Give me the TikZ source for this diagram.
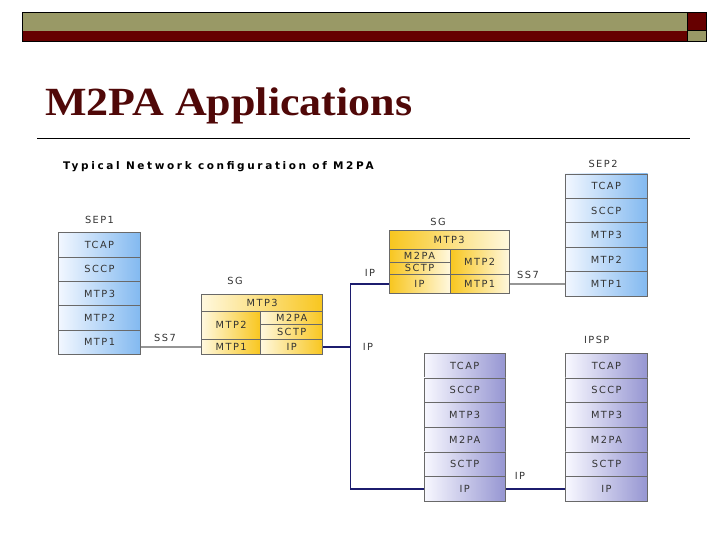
\documentclass[tikz,border=0pt]{standalone}
\usepackage{fontspec}
\setmainfont{Liberation Serif}
\newfontfamily\lblfam[LetterSpace=15]{DejaVu Sans}
\newfontfamily\headfam[LetterSpace=25]{DejaVu Sans}
\definecolor{olivebar}{RGB}{153,153,102}
\definecolor{maroonbar}{RGB}{102,0,0}
\definecolor{titlered}{RGB}{80,8,8}
\definecolor{cellborder}{RGB}{105,105,105}
\definecolor{blueL}{RGB}{242,247,255}
\definecolor{blueR}{RGB}{130,185,240}
\definecolor{lavL}{RGB}{248,248,255}
\definecolor{lavR}{RGB}{150,150,210}
\definecolor{goldC}{RGB}{248,198,30}
\definecolor{paleC}{RGB}{255,248,222}
\definecolor{ss7gray}{RGB}{150,150,150}
\definecolor{ipnavy}{RGB}{28,28,110}
\tikzset{
  cell/.style={draw=cellborder, line width=0.9pt, inner sep=0pt, text=black!80,
    font=\lblfam\fontsize{9.8}{10}\selectfont},
  bluecell/.style={cell, left color=blueL, right color=blueR, minimum height=24.4pt},
  lavcell/.style={cell, left color=lavL, right color=lavR, minimum height=24.7pt},
  goldR/.style={cell, left color=paleC, right color=goldC},
  goldL/.style={cell, left color=goldC, right color=paleC},
  lbl/.style={inner sep=0pt, font=\lblfam\fontsize{9.8}{10}\selectfont, text=black!80},
  ss7line/.style={draw=ss7gray, line width=1.8pt},
  ipline/.style={draw=ipnavy, line width=1.8pt},
  barbox/.style={draw=black, line width=0.8pt}
}
\begin{document}
\begin{tikzpicture}[x=1pt,y=-1pt]
\useasboundingbox (0,0) rectangle (720,540);
% header
\fill[olivebar] (22,12.3) rectangle (687,30.7);
\fill[maroonbar] (22,30.7) rectangle (687,41.7);
\draw[barbox] (22,12.3) rectangle (687,41.7);
\fill[maroonbar] (687,12.3) rectangle (706,30.7);
\fill[olivebar] (687,30.7) rectangle (706,41);
\draw[barbox] (687,12.3) rectangle (706,30.7);
\draw[barbox] (687,30.7) rectangle (706,41);
% title
\node[anchor=base west, inner sep=0pt, xscale=1.1, text=titlered, font=\bfseries\fontsize{40}{44}\selectfont] (title) at (45,116) {M2PA Applications};
\draw[line width=0.8pt] (37,138.3) -- (690,138.3);
% diagram heading
\node[anchor=base west, inner sep=0pt, font=\headfam\bfseries\fontsize{10.5}{11}\selectfont] (head) at (63,169.3) {Typical Network configuration of M2PA};

% SEP1
\node[bluecell, minimum width=82pt] (s1tcap) at (99.5,244.8) {TCAP};
\node[bluecell, minimum width=82pt] (s1sccp) at (99.5,269.2) {SCCP};
\node[bluecell, minimum width=82pt] (s1mtp3) at (99.5,293.6) {MTP3};
\node[bluecell, minimum width=82pt] (s1mtp2) at (99.5,318.0) {MTP2};
\node[bluecell, minimum width=82pt] (s1mtp1) at (99.5,342.4) {MTP1};
\node[lbl] (s1lbl) at (99.5,220) {SEP1};

% SEP2
\node[bluecell, minimum width=82.7pt] (s2tcap) at (606.3,186.2) {TCAP};
\node[bluecell, minimum width=82.7pt] (s2sccp) at (606.3,210.6) {SCCP};
\node[bluecell, minimum width=82.7pt] (s2mtp3) at (606.3,235.0) {MTP3};
\node[bluecell, minimum width=82.7pt] (s2mtp2) at (606.3,259.4) {MTP2};
\node[bluecell, minimum width=82.7pt] (s2mtp1) at (606.3,283.8) {MTP1};
\node[lbl] (s2lbl) at (603,164) {SEP2};

% SG left
\node[goldR, minimum width=121pt, minimum height=17.3pt] (g1mtp3) at (262.2,302.7) {MTP3};
\node[goldR, minimum width=59pt, minimum height=28pt] (g1mtp2) at (231.2,325.3) {MTP2};
\node[goldR, minimum width=59pt, minimum height=14.7pt] (g1mtp1) at (231.2,346.7) {MTP1};
\node[goldR, minimum width=62pt, minimum height=13pt] (g1m2pa) at (291.7,317.8) {M2PA};
\node[goldR, minimum width=62pt, minimum height=15pt] (g1sctp) at (291.7,331.8) {SCTP};
\node[goldR, minimum width=62pt, minimum height=14.7pt] (g1ip) at (291.7,346.7) {IP};
\node[lbl] (g1lbl) at (235,281) {SG};

% SG right
\node[goldL, minimum width=120.3pt, minimum height=18.3pt] (g2mtp3) at (449.2,239.8) {MTP3};
\node[goldL, minimum width=61pt, minimum height=13pt] (g2m2pa) at (419.5,255.5) {M2PA};
\node[goldL, minimum width=61pt, minimum height=12pt] (g2sctp) at (419.5,268) {SCTP};
\node[goldL, minimum width=61pt, minimum height=19.3pt] (g2ip) at (419.5,283.7) {IP};
\node[goldL, minimum width=59.3pt, minimum height=25pt] (g2mtp2) at (479.7,261.5) {MTP2};
\node[goldL, minimum width=59.3pt, minimum height=19.3pt] (g2mtp1) at (479.7,283.7) {MTP1};
\node[lbl] (g2lbl) at (438,221.7) {SG};

% bottom left stack
\node[lavcell, minimum width=81.3pt] (atcap) at (464.7,365.6) {TCAP};
\node[lavcell, minimum width=81.3pt] (asccp) at (464.7,390.3) {SCCP};
\node[lavcell, minimum width=81.3pt] (amtp3) at (464.7,415.0) {MTP3};
\node[lavcell, minimum width=81.3pt] (am2pa) at (464.7,439.7) {M2PA};
\node[lavcell, minimum width=81.3pt] (asctp) at (464.7,464.3) {SCTP};
\node[lavcell, minimum width=81.3pt] (aip) at (464.7,489.0) {IP};

% bottom right stack (IPSP)
\node[lavcell, minimum width=81.6pt] (btcap) at (606.5,365.6) {TCAP};
\node[lavcell, minimum width=81.6pt] (bsccp) at (606.5,390.3) {SCCP};
\node[lavcell, minimum width=81.6pt] (bmtp3) at (606.5,415.0) {MTP3};
\node[lavcell, minimum width=81.6pt] (bm2pa) at (606.5,439.7) {M2PA};
\node[lavcell, minimum width=81.6pt] (bsctp) at (606.5,464.3) {SCTP};
\node[lavcell, minimum width=81.6pt] (bip) at (606.5,489.0) {IP};
\node[lbl] (blbl) at (596.7,340) {IPSP};

% connectors
\coordinate (jx) at (350.5,400);
\draw[ss7line] (s1mtp1.east |- g1mtp1.west) -- (g1mtp1.west);
\draw[ss7line] (g2mtp1.east) -- (s2mtp1.west |- g2mtp1.east);
\draw[ipline] (g1ip.east) -- (jx |- g1ip.east);
\draw[ipline] (g2ip.west) -| (jx |- aip.west) -- (aip.west);
\draw[ipline] (aip.east) -- (bip.west);

% link labels
\node[lbl] (lss7a) at (165,338) {SS7};
\node[lbl] (lss7b) at (528,275) {SS7};
\node[lbl] (lipa) at (370,273) {IP};
\node[lbl] (lipb) at (368,347) {IP};
\node[lbl] (lipc) at (520,475.7) {IP};
\end{tikzpicture}
\end{document}
